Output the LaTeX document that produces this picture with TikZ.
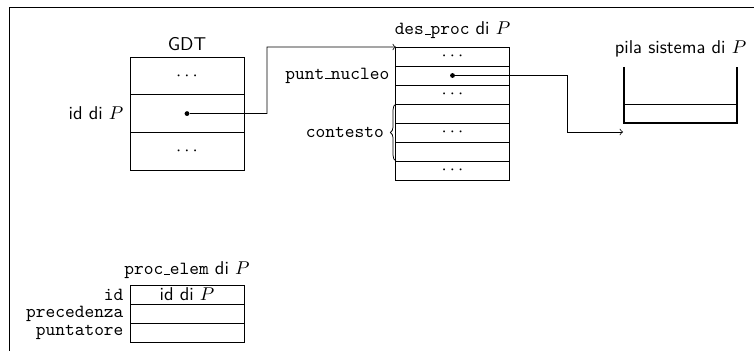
\documentclass[tikz,border=0pt]{standalone}
\usetikzlibrary{positioning,decorations.pathreplacing}
\renewcommand{\familydefault}{\sfdefault}
% trattino basso a filetto, come nei nomi dei campi
\newcommand{\sotto}{\leavevmode\kern.06em\vbox{\hrule width.3em}}

\tikzset{
    cella/.style={draw, minimum width=61.6pt, minimum height=20.3pt, inner sep=0pt, outer sep=0pt},
    riga/.style={draw, minimum width=61.2pt, minimum height=10.26pt, inner sep=0pt, outer sep=0pt},
    punto/.style={circle, fill, inner sep=0pt, minimum size=2.6pt},
    pila/.style={line width=1pt},
}

\begin{document}
\begin{tikzpicture}[x=0.54pt, y=-0.54pt]
    \clip (0,0) rectangle (754,350);
    % cornice
    \draw (9,7) rectangle (770,370);

    % GDT
    \node[cella] (gdt1) at (187,76) {$\cdots$};
    \node[cella, below=0pt of gdt1] (gdt2) {};
    \node[cella, below=0pt of gdt2] (gdt3) {$\cdots$};
    \node[above=0pt of gdt1] (gdtlab) {GDT};
    \node[left=0pt of gdt2] (gdtid) {id di $P$};
    \node[punto] (gdtdot) at (gdt2.center) {};

    % descrittore del processo
    \node[riga] (dp1) at (452.5,56.5) {$\cdots$};
    \foreach \i/\txt [count=\j] in {2/{},3/{$\cdots$},4/{},5/{$\cdots$},6/{},7/{$\cdots$}}
        \node[riga, below=0pt of dp\j] (dp\i) {\txt};
    \node[above=1pt of dp1] (dplab) {\texttt{des\sotto proc} di $P$};
    \node[left=0pt of dp2] (puntnucleo) {\texttt{punt\sotto nucleo}};
    \draw[decorate, decoration={brace, amplitude=3pt}] (dp6.south west) -- (dp4.north west);
    \node[left=3pt of dp5] (contesto) {\texttt{contesto}};
    \node[punto] (dpdot) at (dp2.center) {};

    % pila sistema
    \draw[pila] (624,67) -- (624,123) -- (737,123) -- (737,67);
    \draw (624,104) -- (737,104);
    \node (pilalab) at (680.5,49) {pila sistema di $P$};

    % puntatori
    \coordinate (gomito1) at (267,47);
    \draw[->] (gdtdot) -| (gomito1) -- (dp1.north west);
    \coordinate (gomito2) at (567,132);
    \coordinate (ingresso) at (623,132);
    \draw[->] (dpdot) -| (gomito2) -- (ingresso);

    % elemento della coda dei processi
    \node[riga, minimum width=61.6pt] (pe1) at (187,294.5) {id di $P$};
    \node[riga, minimum width=61.6pt, below=0pt of pe1] (pe2) {};
    \node[riga, minimum width=61.6pt, below=0pt of pe2] (pe3) {};
    \node[above=0pt of pe1] (pelab) {\texttt{proc\sotto elem} di $P$};
    \node[left=0pt of pe1] (peid) {\texttt{id}};
    \node[left=0pt of pe2] (peprec) {\texttt{precedenza}};
    \node[left=0pt of pe3] (pepunt) {\texttt{puntatore}};
\end{tikzpicture}
\end{document}
